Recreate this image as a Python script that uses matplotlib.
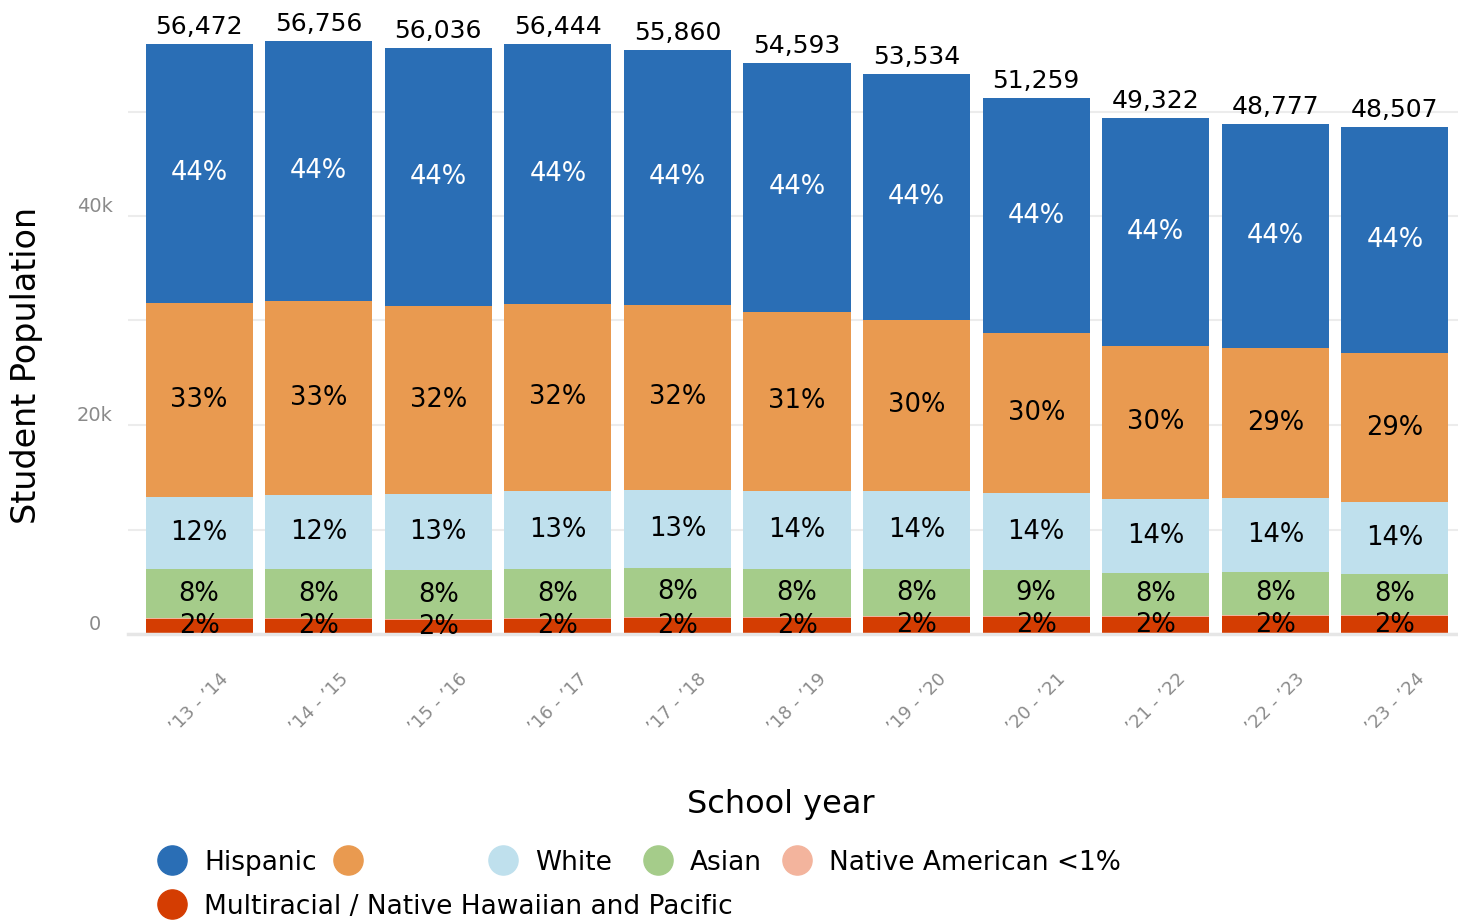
import matplotlib.pyplot as plt
import numpy as np
from matplotlib.lines import Line2D
from matplotlib.transforms import ScaledTranslation

years = ["’13 - ’14", "’14 - ’15", "’15 - ’16", "’16 - ’17", "’17 - ’18", "’18 - ’19",
         "’19 - ’20", "’20 - ’21", "’21 - ’22", "’22 - ’23", "’23 - ’24"]
totals = [56472, 56756, 56036, 56444, 55860, 54593, 53534, 51259, 49322, 48777, 48507]

# segment counts
hispanic = [24790, 24880, 24690, 24880, 24400, 23830, 23540, 22490, 21820, 21440, 21630]
other = [18570, 18570, 17990, 17900, 17700, 17130, 16370, 15310, 14640, 14360, 14260]
white = [6890, 7080, 7270, 7470, 7470, 7470, 7470, 7370, 7080, 7080, 6890]
asian = [4690, 4690, 4690, 4690, 4690, 4590, 4500, 4400, 4120, 4120, 3920]
native = [60, 60, 60, 60, 60, 60, 60, 60, 60, 60, 60]
multi = [1470, 1470, 1370, 1470, 1570, 1570, 1660, 1660, 1660, 1760, 1760]

# percent labels as printed
pct_hispanic = [44, 44, 44, 44, 44, 44, 44, 44, 44, 44, 44]
pct_other = [33, 33, 32, 32, 32, 31, 30, 30, 30, 29, 29]
pct_white = [12, 12, 13, 13, 13, 14, 14, 14, 14, 14, 14]
pct_asian = [8, 8, 8, 8, 8, 8, 8, 9, 8, 8, 8]
pct_multi = [2, 2, 2, 2, 2, 2, 2, 2, 2, 2, 2]

legend_names = ["Hispanic", "", "White", "Asian", "Native American <1%",
                "Multiracial / Native Hawaiian and Pacific"]

c_blue = "#2a6eb5"
c_orange = "#e99a50"
c_lblue = "#bfe0ed"
c_green = "#a5cc8a"
c_salmon = "#f3b49d"
c_red = "#d43d02"

plt.rcParams['font.family'] = ['DejaVu Sans']

fig = plt.figure(figsize=(14.58, 9.22), dpi=100)
W, H = 1458, 922
ax = fig.add_axes([128 / W, 1 - 634 / H, (1458 - 128) / W, (634 - 7) / H])

x = np.arange(len(years))
bw = 0.895

# stack from the bottom
stack = [(multi, c_red, pct_multi, "black"),
         (native, c_salmon, None, None),
         (asian, c_green, pct_asian, "black"),
         (white, c_lblue, pct_white, "black"),
         (other, c_orange, pct_other, "black"),
         (hispanic, c_blue, pct_hispanic, "white")]

bottom = np.zeros(len(years))
for vals, col, pcts, tcol in stack:
    vals = np.array(vals, dtype=float)
    ax.bar(x, vals, bw, bottom=bottom, color=col, linewidth=0, zorder=3)
    if pcts is not None:
        for i in range(len(x)):
            ax.text(x[i], bottom[i] + vals[i] / 2, f"{pcts[i]}%", ha="center", va="center",
                    color=tcol, fontsize=18.5, zorder=5)
    bottom += vals

for i in range(len(x)):
    ax.text(x[i], bottom[i] + 450, f"{totals[i]:,}", ha="center", va="bottom",
            fontsize=18, color="black", zorder=5)

ax.set_xlim(-0.594, 10.527)
ax.set_ylim(0, 60000)

ax.set_yticks([0, 20000, 40000])
ax.set_yticklabels(["0", "20k", "40k"])
ax.set_yticks([10000, 30000, 50000], minor=True)
ax.grid(axis="y", which="both", color="#ececec", linewidth=1.5, zorder=0)
ax.tick_params(axis="y", which="both", length=0, pad=24, labelsize=14, labelcolor="#8a8a8a")
off = ScaledTranslation(0, 8.5 / 72, fig.dpi_scale_trans)
for lbl in ax.get_yticklabels():
    lbl.set_ha("center")
    lbl.set_transform(lbl.get_transform() + off)

ax.set_xticks(x)
ax.set_xticklabels(years, rotation=45, ha="center", va="top")
ax.tick_params(axis="x", length=0, pad=26, labelsize=13, labelcolor="#8a8a8a")

for s in ["top", "right", "left"]:
    ax.spines[s].set_visible(False)
ax.spines["bottom"].set_color("#e6e6e6")
ax.spines["bottom"].set_linewidth(2.5)
ax.spines["bottom"].set_zorder(4)

ax.set_xlabel("School year", fontsize=23)
ax.set_ylabel("Student Population", fontsize=24)
ax.xaxis.set_label_coords(0.491, -0.248)
ax.yaxis.set_label_coords(-0.064, 0.429)

# legend, laid out by hand like the original
leg_cols = [c_blue, c_orange, c_lblue, c_green, c_salmon, c_red]
dot_px = [(172, 860), (348, 860), (503, 860), (658, 860), (797, 860), (172, 904)]
for name, col, (px, py) in zip(legend_names, leg_cols, dot_px):
    fig.add_artist(Line2D([px / W], [1 - py / H], marker="o", markersize=21, color=col,
                          linestyle="none", transform=fig.transFigure))
    if name:
        fig.text((px + 32) / W, 1 - (py + 3) / H, name, fontsize=19, va="center", ha="left")

fig.savefig("out.png", dpi=100)
